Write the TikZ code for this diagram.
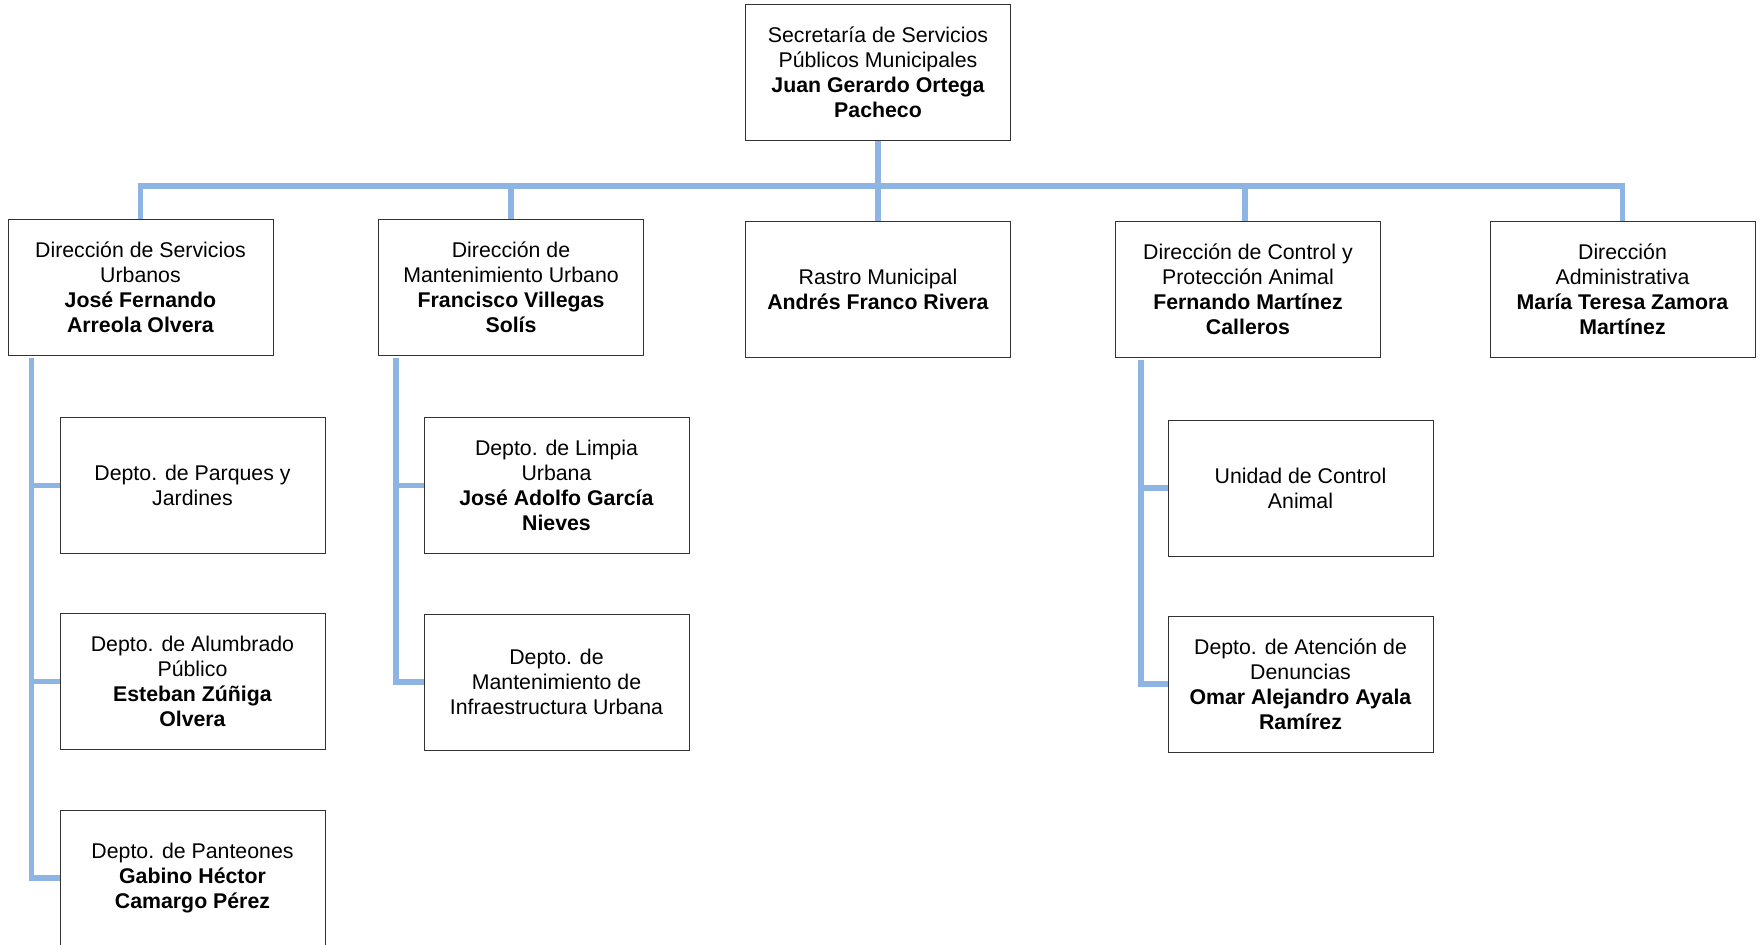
\documentclass[tikz,border=0pt]{standalone}
\usepackage{fontspec}
\setmainfont{Liberation Sans}
\usepackage{tikz}
\usetikzlibrary{positioning}
\definecolor{linkblue}{RGB}{141,180,226}

\begin{document}
\begin{tikzpicture}[x=0.5pt,y=-0.5pt,
    box/.style={draw=black!80,line width=0.5pt,fill=white,align=center,
      minimum width=132.5pt,minimum height=68pt,inner sep=0pt,
      font=\fontsize{10.65}{12.5}\selectfont},
    link/.style={draw=linkblue,line width=2.6pt}]
    \useasboundingbox (0,0) rectangle (1761,944);
    %boxes
    \node[box] (sec) at (878,72) {Secretaría de Servicios\\Públicos Municipales\\\textbf{Juan Gerardo Ortega}\\\textbf{Pacheco}};
    \node[box] (dsu) at (140.5,287) {Dirección de Servicios\\Urbanos\\\textbf{José Fernando}\\\textbf{Arreola Olvera}};
    \node[box] (dmu) at (511,287) {Dirección de\\Mantenimiento Urbano\\\textbf{Francisco Villegas}\\\textbf{Solís}};
    \node[box] (ras) at (878,289) {Rastro Municipal\\\textbf{Andrés Franco Rivera}};
    \node[box] (dcp) at (1248,289) {Dirección de Control y\\Protección Animal\\\textbf{Fernando Martínez}\\\textbf{Calleros}};
    \node[box] (dad) at (1622.5,289) {Dirección\\Administrativa\\\textbf{María Teresa Zamora}\\\textbf{Martínez}};
    \node[box] (par) at (192.5,485.5) {Depto. de Parques y\\Jardines};
    \node[box] (alu) at (192.5,681.5) {Depto. de Alumbrado\\Público\\\textbf{Esteban Zúñiga}\\\textbf{Olvera}};
    \node[box] (pan) at (192.5,878) {Depto. de Panteones\\\textbf{Gabino Héctor}\\\textbf{Camargo Pérez}};
    \node[box] (lim) at (556.5,485.5) {Depto. de Limpia\\Urbana\\\textbf{José Adolfo García}\\\textbf{Nieves}};
    \node[box] (man) at (556.5,682) {Depto. de\\Mantenimiento de\\Infraestructura Urbana};
    \node[box] (uni) at (1300.5,488) {Unidad de Control\\Animal};
    \node[box] (ate) at (1300.5,684) {Depto. de Atención de\\Denuncias\\\textbf{Omar Alejandro Ayala}\\\textbf{Ramírez}};
    %lines
    \coordinate (bus) at (878,186);
    \draw[link] (sec.south) -- (ras.north);
    \draw[link] (dsu.north) |- (bus) -| (dad.north);
    \draw[link] (dmu.north) -- (dmu.north |- bus);
    \draw[link] ([xshift=-1.5pt]dcp.north) -- ([xshift=-1.5pt]dcp.north |- bus);
    \draw[link] ([xshift=12pt,yshift=-1pt]dsu.south west) |- (pan.west);
    \draw[link] ([xshift=12pt]dsu.south west |- par.west) -- (par.west);
    \draw[link] ([xshift=12pt]dsu.south west |- alu.west) -- (alu.west);
    \draw[link] ([xshift=9pt,yshift=-1pt]dmu.south west) |- (man.west);
    \draw[link] ([xshift=9pt]dmu.south west |- lim.west) -- (lim.west);
    \draw[link] ([xshift=13pt,yshift=-1pt]dcp.south west) |- (ate.west);
    \draw[link] ([xshift=13pt]dcp.south west |- uni.west) -- (uni.west);
\end{tikzpicture}
\end{document}
